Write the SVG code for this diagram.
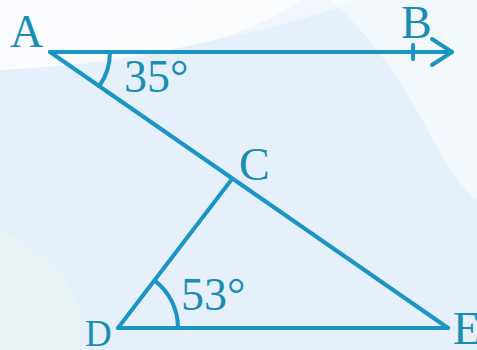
<svg xmlns="http://www.w3.org/2000/svg" width="477" height="350" viewBox="0 0 477 350">
<defs>
<style>
.ln{stroke:#1b95c4;stroke-width:4;fill:none;stroke-linecap:round;stroke-linejoin:round}
.lb{font-family:"Liberation Serif","Times New Roman",serif;font-size:46px;fill:#1a8db5}
</style>
</defs>
<rect width="477" height="350" fill="#e6f0fb"/>
<path d="M0 0 H300 C260 30 180 60 0 70 Z" fill="#ffffff" opacity="0.75"/>
<path d="M0 70 C120 60 250 40 360 0 H200 Z" fill="#ffffff" opacity="0.4"/>
<path d="M330 0 H477 V200 C430 160 420 80 330 0 Z" fill="#ffffff" opacity="0.5"/>
<path d="M0 230 C60 260 90 300 80 350 H0 Z" fill="#eef6ee" opacity="0.5"/>
<g id="connectors">
<line class="ln" x1="50" y1="52" x2="452" y2="52"/>
<polyline class="ln" points="432,39 452,52 432,65"/>
<line class="ln" x1="413" y1="45" x2="413" y2="59"/>
<line class="ln" x1="50" y1="52" x2="448" y2="328"/>
<line class="ln" x1="232" y1="179" x2="118" y2="328"/>
<line class="ln" x1="118" y1="328" x2="448" y2="328"/>
<path class="ln" d="M110 52 A60 60 0 0 1 99.3 86.2"/>
<path class="ln" d="M178 328 A60 60 0 0 0 154.5 280.4"/>
</g>
<g id="A"><text class="lb" x="10" y="47">A</text></g>
<g id="B"><text class="lb" x="401" y="38">B</text></g>
<g id="C"><text class="lb" x="239" y="180">C</text></g>
<g id="D"><text class="lb" x="85" y="346" style="font-size:37px">D</text></g>
<g id="E"><text class="lb" x="453" y="344">E</text></g>
<g id="angleA"><text class="lb" x="124" y="92">35°</text></g>
<g id="angleD"><text class="lb" x="181" y="310">53°</text></g>
</svg>
